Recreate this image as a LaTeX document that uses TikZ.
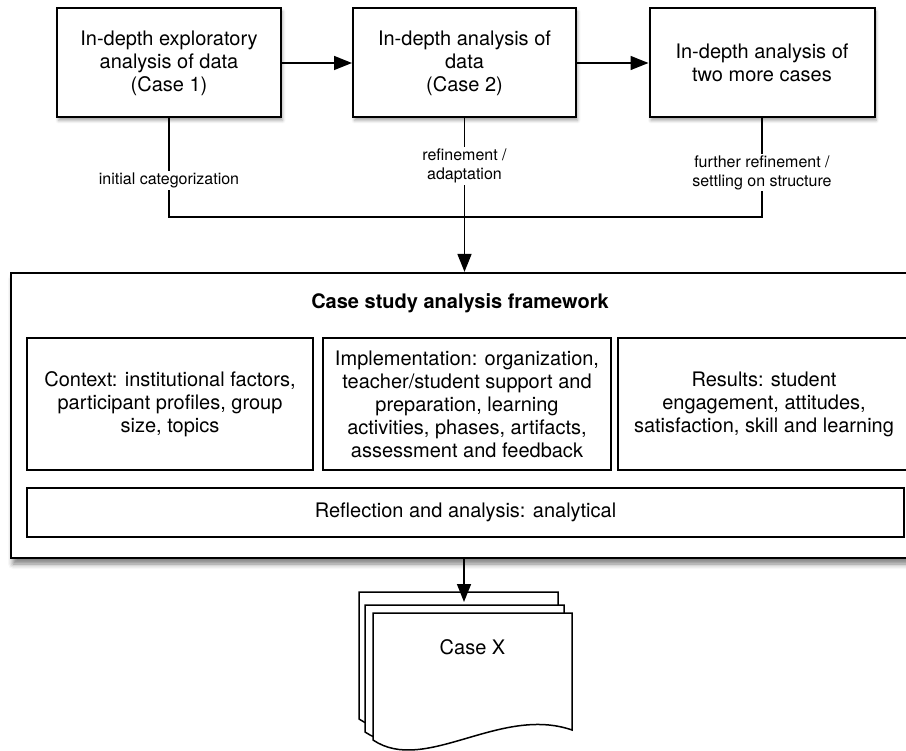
\documentclass[tikz,border=0pt]{standalone}
\usepackage{fontspec}
\setmainfont{TeX Gyre Heros}
\usetikzlibrary{arrows.meta,shadows.blur}

% document page with a wavy lower edge, shifted by (#1,#2)
\newcommand\casepage[2]{%
  \draw[pageline, shift={(#1,#2)}]
    (373,613) -- (572,613) -- (572,730)
    .. controls (500,705) and (425,775) .. (373,740) -- cycle;}

\begin{document}
\begin{tikzpicture}[x=1pt, y=-1pt,
  every node/.style={font=\fontsize{20}{23}\selectfont},
  stagebox/.style={draw, line width=2pt, fill=white, align=center,
    inner sep=0pt, minimum height=109pt,
    blur shadow={shadow xshift=1.5pt, shadow yshift=-3pt,
      shadow blur radius=3pt, shadow opacity=35}},
  framebox/.style={draw, line width=2.2pt, fill=white, inner sep=0pt,
    blur shadow={shadow xshift=2pt, shadow yshift=-6pt,
      shadow blur radius=5pt, shadow opacity=50}},
  partbox/.style={draw, line width=1.5pt, fill=white, align=center,
    inner sep=0pt},
  conn/.style={draw, line width=1.5pt},
  tip/.style={-{Triangle[length=18pt,width=14pt]}},
  conlabel/.style={fill=white, align=center, inner sep=1.5pt,
    font=\fontsize{16}{19}\selectfont},
  pageline/.style={draw, line width=1.5pt, fill=white, line join=miter},
]
\useasboundingbox (0,0) rectangle (906,751);

% stages of the analysis
\node[stagebox, minimum width=224pt] (b1) at (169,63)
  {In-depth exploratory\\analysis of data\\(Case 1)};
\node[stagebox, minimum width=223pt] (b2) at (464.5,63)
  {In-depth analysis of\\data\\(Case 2)};
\node[stagebox, minimum width=225pt] (b3) at (762,63)
  {In-depth analysis of\\two more cases};

\draw[conn, tip] (b1) -- (b2);
\draw[conn, tip] (b2) -- (b3);

% framework container and its parts
\node[framebox, minimum width=914pt, minimum height=285pt] (frame) at (468,415.5) {};
\node (title) at (460,303) {\bfseries Case study analysis framework};
\node[partbox, minimum width=286pt, minimum height=132pt] (context) at (170,404)
  {Context: institutional factors,\\participant profiles, group\\size, topics};
\node[partbox, minimum width=288pt, minimum height=132pt] (impl) at (467,404)
  {Implementation: organization,\\teacher/student support and\\preparation, learning\\activities, phases, artifacts,\\assessment and feedback};
\node[partbox, minimum width=292pt, minimum height=132pt] (results) at (764,404)
  {Results: student\\engagement, attitudes,\\satisfaction, skill and learning};
\node[partbox, minimum width=877pt, minimum height=49pt] (reflect) at (465.5,512.5)
  {Reflection and analysis: analytical};

% feedback from each stage into the framework
\coordinate (j1) at (169,217);
\coordinate (j3) at (b3.south |- j1);
\draw[conn] (b1.south) -- node[conlabel, pos=0.63] {initial categorization} (j1)
  -- (j3) -- node[conlabel, pos=0.45] {further refinement /\\settling on structure} (b3.south);
\draw[conn, tip] (b2.south) -- node[conlabel, pos=0.31] {refinement /\\adaptation}
  (b2.south |- frame.north);

% stack of case documents
\casepage{-14}{-21}
\casepage{-8}{-8}
\casepage{0}{0}
\node (casex) at (472.5,647) {Case X};

\coordinate (docin) at (464,602);
\draw[conn, tip] (docin |- frame.south) -- (docin);
\end{tikzpicture}
\end{document}
